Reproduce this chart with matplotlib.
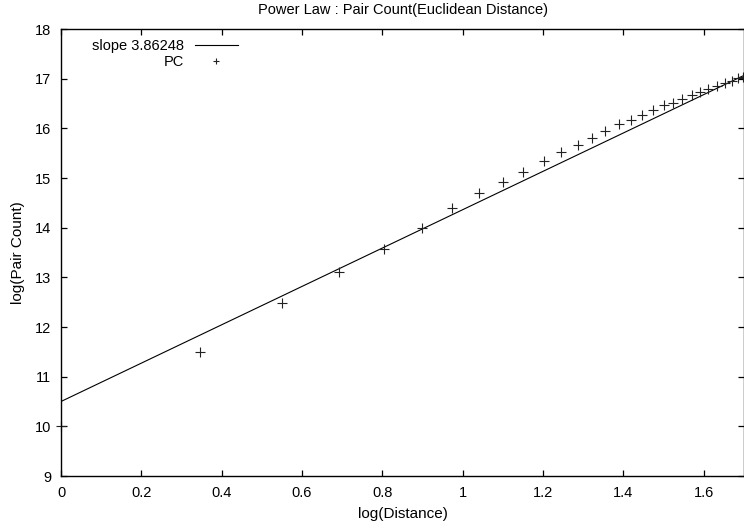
import matplotlib
matplotlib.use("Agg")
import matplotlib.pyplot as plt
from matplotlib.ticker import FuncFormatter, MultipleLocator

plt.rcParams['font.family'] = ['Liberation Sans', 'DejaVu Sans']

# measured points of the pair count curve
log_dist = [0.0, 0.346, 0.549, 0.692, 0.805, 0.898, 0.973, 1.040, 1.100, 1.151,
            1.201, 1.244, 1.286, 1.322, 1.355, 1.388, 1.419, 1.447, 1.474, 1.502,
            1.524, 1.546, 1.570, 1.590, 1.611, 1.632, 1.653, 1.669, 1.686, 1.697]
log_pc = [10.0, 11.5, 12.49, 13.1, 13.57, 13.99, 14.39, 14.69, 14.91, 15.13,
          15.35, 15.53, 15.67, 15.81, 15.95, 16.08, 16.17, 16.26, 16.36, 16.46,
          16.52, 16.59, 16.67, 16.73, 16.79, 16.85, 16.92, 16.96, 17.01, 17.04]

slope = 3.86248
intercept = 10.5
fit_x = [0.0, 1.7]
fit_y = [intercept + slope * v for v in fit_x]

fig = plt.figure(figsize=(7.44, 5.29), dpi=100)
ax = fig.add_axes([61 / 744, 53 / 529, 683 / 744, 447 / 529])

ax.plot(fit_x, fit_y, color='black', lw=0.8, label='slope 3.86248')
ax.plot(log_dist, log_pc, ls='none', marker='+', ms=6.5, mew=0.8,
        color='#222222', label='PC', clip_on=False)

ax.set_xlim(0, 1.7)
ax.set_ylim(9, 18)
ax.xaxis.set_major_locator(MultipleLocator(0.2))
ax.yaxis.set_major_locator(MultipleLocator(1))
ax.xaxis.set_major_formatter(FuncFormatter(lambda v, p: '%g' % round(v, 2)))
ax.yaxis.set_major_formatter(FuncFormatter(lambda v, p: '%g' % v))
ax.tick_params(direction='in', top=True, right=True, length=4, width=0.9,
               labelsize=10.5, pad=7)
for s in ax.spines.values():
    s.set_linewidth(1.0)

ax.set_title('Power Law : Pair Count(Euclidean Distance)', fontsize=10.5, pad=11)
ax.set_xlabel('log(Distance)', fontsize=11, labelpad=5)
ax.set_ylabel('log(Pair Count)', fontsize=11, labelpad=7)

leg = ax.legend(loc='upper left', markerfirst=False, frameon=False, fontsize=10.5,
                handlelength=3.0, handletextpad=0.7, labelspacing=0.1,
                borderaxespad=0.3, bbox_to_anchor=(0.031, 1.0))
leg.legend_handles[1].set_markersize(5)

fig.savefig('out.png', dpi=100)
